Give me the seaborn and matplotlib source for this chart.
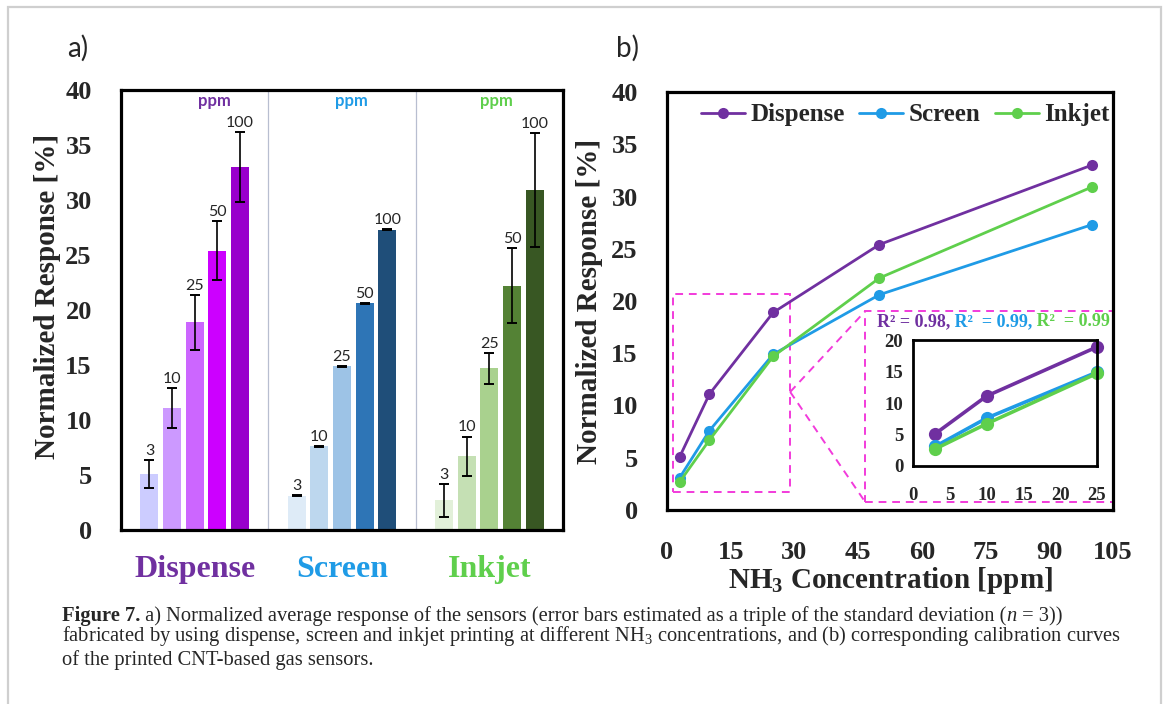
import numpy as np
import pandas as pd
import matplotlib
matplotlib.use("Agg")
import matplotlib.pyplot as plt
import seaborn as sns
from matplotlib.patches import Rectangle
from matplotlib.lines import Line2D
from matplotlib.container import BarContainer

# ---------------- data ----------------
methods = ["Dispense", "Screen", "Inkjet"]
concentrations = [3, 10, 25, 50, 100]
conc_labels = ["3", "10", "25", "50", "100"]

dispense_resp = [5.1, 11.1, 18.9, 25.4, 33.0]
screen_resp = [3.1, 7.6, 14.9, 20.6, 27.3]
inkjet_resp = [2.7, 6.7, 14.7, 22.2, 30.9]

dispense_err = [1.3, 1.8, 2.5, 2.7, 3.2]
screen_err = [0.04, 0.04, 0.04, 0.04, 0.04]
inkjet_err = [1.5, 1.8, 1.4, 3.4, 5.2]

r2_texts = ["R\u00b2 = 0.98,", " R\u00b2  = 0.99,", " R\u00b2  = 0.99"]
y_ticks_main = [0, 5, 10, 15, 20, 25, 30, 35, 40]
x_ticks_b = [0, 15, 30, 45, 60, 75, 90, 105]
inset_xticks = [0, 5, 10, 15, 20, 25]
inset_yticks = [0, 5, 10, 15, 20]

# ---------------- styles ----------------
bar_colors = {
    "Dispense": ["#CCCCFF", "#CC99FF", "#CC66FF", "#CC00FF", "#9900CC"],
    "Screen": ["#DEEBF7", "#BDD7EE", "#9DC3E6", "#2E75B6", "#1F4E79"],
    "Inkjet": ["#E2F0D9", "#C5E0B4", "#A9D18E", "#548235", "#385723"],
}
line_colors = {"Dispense": "#7030A0", "Screen": "#1F9BE6", "Inkjet": "#5FCF4C"}
magenta = "#F23BDB"

sns.set_style("white")
plt.rcParams["font.family"] = ["Liberation Serif", "DejaVu Serif"]
plt.rcParams["mathtext.fontset"] = "custom"
plt.rcParams["mathtext.rm"] = "Liberation Serif"
plt.rcParams["mathtext.it"] = "Liberation Serif:italic"
plt.rcParams["mathtext.bf"] = "Liberation Serif:bold"

W, H = 1167, 704
fig = plt.figure(figsize=(W / 100, H / 100), dpi=100)
fig.patch.set_facecolor("white")


def fr(l, t, r, b):
    return [l / W, 1 - b / H, (r - l) / W, (b - t) / H]


axa = fig.add_axes(fr(121, 90, 563, 530))
axb = fig.add_axes(fr(667, 92, 1113, 510))

SP = 2.3
TICKFS = 19

# ---------------- panel a ----------------
dfa = pd.DataFrame({
    "method": np.repeat(methods, len(concentrations)),
    "conc": conc_labels * len(methods),
    "value": dispense_resp + screen_resp + inkjet_resp,
})
errs = {"Dispense": dispense_err, "Screen": screen_err, "Inkjet": inkjet_err}

sns.barplot(data=dfa, x="method", y="value", hue="conc", order=methods,
            hue_order=conc_labels, width=0.768, gap=0.2, errorbar=None,
            legend=False, saturation=1, ax=axa)

bar_conts = [c for c in axa.containers if isinstance(c, BarContainer)]
for i, cont in enumerate(bar_conts):
    for j, bar in enumerate(list(cont)):
        m = methods[j]
        bar.set_facecolor(bar_colors[m][i])
        bar.set_edgecolor("none")
        xc = bar.get_x() + bar.get_width() / 2
        h = bar.get_height()
        e = errs[m][i]
        axa.errorbar(xc, h, yerr=e, color="black", capsize=3.6,
                     elinewidth=1.2, capthick=1.4, zorder=4)
        axa.annotate(conc_labels[i], (xc, h + e), xytext=(0, 1.5),
                     textcoords="offset points", ha="center", va="bottom",
                     fontsize=11.5, family=["Lato", "DejaVu Sans"], zorder=5)

for xs in (0.5, 1.5):
    axa.axvline(xs, color="#B8BED0", lw=0.9, zorder=0)

ppm_x = [0.135, 1.062, 2.047]
for m, px in zip(methods, ppm_x):
    axa.text(px, 39.0, "ppm", color=line_colors[m], fontsize=12,
             fontweight="bold", family=["Lato", "DejaVu Sans"],
             ha="center", va="center")

axa.set_xlim(-0.5, 2.5)
axa.set_ylim(0, 40)
axa.set_yticks(y_ticks_main)
axa.set_yticklabels([str(v) for v in y_ticks_main], fontsize=TICKFS,
                    fontweight="bold")
axa.set_xticks([-0.5, 0.5, 1.5, 2.5])
axa.set_xticklabels([])
axa.set_xticks([0, 1, 2], minor=True)
axa.set_xticklabels(methods, minor=True, fontsize=23, fontweight="bold")
for lbl, m in zip(axa.get_xticklabels(minor=True), methods):
    lbl.set_color(line_colors[m])
axa.tick_params(axis="x", which="minor", length=0, pad=18)
axa.tick_params(axis="x", which="major", direction="out", length=8,
                width=SP, color="black")
axa.tick_params(axis="y", direction="out", length=8, width=SP,
                color="black", pad=13)
axa.set_xlabel("")
axa.set_ylabel("Normalized Response [%]", fontsize=21, fontweight="bold")
axa.yaxis.set_label_coords(-0.136, 0.53)
for s in axa.spines.values():
    s.set_linewidth(SP)
    s.set_color("black")
    s.set_visible(True)

# ---------------- panel b ----------------
dfb = pd.DataFrame({
    "method": np.repeat(methods, len(concentrations)),
    "conc": concentrations * len(methods),
    "value": dispense_resp + screen_resp + inkjet_resp,
})
sns.lineplot(data=dfb, x="conc", y="value", hue="method", hue_order=methods,
             palette=line_colors, marker="o", markersize=8,
             markeredgewidth=0, linewidth=2.0, legend=False, ax=axb,
             zorder=3)

handles = [Line2D([0], [0], color=line_colors[m], marker="o", markersize=8,
                  markeredgewidth=0, lw=2.0) for m in methods]
leg = axb.legend(handles, methods, ncol=3, frameon=False, loc="center",
                 bbox_to_anchor=(0.534, 0.945),
                 handlelength=1.75, handletextpad=0.2, columnspacing=0.6,
                 prop={"weight": "bold", "size": 18})

axb.set_xlim(0, 105)
axb.set_ylim(0, 40)
axb.set_xticks(x_ticks_b)
axb.set_xticklabels([str(v) for v in x_ticks_b], fontsize=TICKFS,
                    fontweight="bold")
axb.set_yticks(y_ticks_main)
axb.set_yticklabels([str(v) for v in y_ticks_main], fontsize=TICKFS,
                    fontweight="bold")
axb.tick_params(axis="x", direction="out", length=8, width=SP, pad=14)
axb.tick_params(axis="y", direction="out", length=8, width=SP, pad=13)
axb.set_xlabel(r"$\mathbf{NH_3}$ Concentration [ppm]", fontsize=21,
               fontweight="bold", labelpad=1)
axb.set_ylabel("Normalized Response [%]", fontsize=21, fontweight="bold")
axb.yaxis.set_label_coords(-0.143, 0.5)
for s in axb.spines.values():
    s.set_linewidth(SP)
    s.set_color("black")
    s.set_visible(True)

# zoom box, inset box and connectors (annotation decorations)
zoom_box = (1.4, 1.7, 29.0, 20.7)      # x0, y0, x1, y1 in data units
inset_box = (46.6, 0.8, 105.0, 19.0)
dash = (0, (4, 3))
axb.add_patch(Rectangle((zoom_box[0], zoom_box[1]), zoom_box[2] - zoom_box[0],
                        zoom_box[3] - zoom_box[1], fill=False, ec=magenta,
                        lw=1.4, ls=dash, zorder=2))
axb.add_patch(Rectangle((inset_box[0], inset_box[1]),
                        inset_box[2] - inset_box[0],
                        inset_box[3] - inset_box[1], fill=False, ec=magenta,
                        lw=1.4, ls=dash, zorder=2, clip_on=False))
apex_y = 11.3
for yy in (inset_box[3], inset_box[1]):
    axb.add_line(Line2D([zoom_box[2], inset_box[0]], [apex_y, yy],
                        color=magenta, lw=1.4, ls=dash, zorder=2))

# R^2 text
t = axb.text(49.4, 18.0, r2_texts[0], color=line_colors["Dispense"],
             fontsize=13, fontweight="bold", ha="left", va="center")
for txt, m in zip(r2_texts[1:], methods[1:]):
    t = axb.annotate(txt, xy=(1, 0), xycoords=t, ha="left", va="bottom",
                     color=line_colors[m], fontsize=13, fontweight="bold")

# ---------------- inset ----------------
axi = fig.add_axes(fr(913, 340, 1097, 466))
dfi = dfb[dfb["conc"] <= 25]
sns.lineplot(data=dfi, x="conc", y="value", hue="method", hue_order=methods,
             palette=line_colors, marker="o", markersize=9.5,
             markeredgewidth=0, linewidth=2.6, legend=False, ax=axi)
axi.set_xlim(0, 25)
axi.set_ylim(0, 20)
axi.set_xticks(inset_xticks)
axi.set_xticklabels([str(v) for v in inset_xticks], fontsize=13.5,
                    fontweight="bold")
axi.set_yticks(inset_yticks)
axi.set_yticklabels([str(v) for v in inset_yticks], fontsize=13.5,
                    fontweight="bold")
axi.tick_params(axis="x", direction="out", length=5, width=2, pad=10)
axi.tick_params(axis="y", direction="out", length=5, width=2, pad=2)
axi.set_xlabel("")
axi.set_ylabel("")
for s in axi.spines.values():
    s.set_linewidth(2.0)
    s.set_color("black")
    s.set_visible(True)
for ln in axi.lines:
    ln.set_clip_on(False)

# ---------------- titles ----------------
fig.text(78 / W, 1 - 48 / H, "a)", fontsize=20, family=["Lato", "DejaVu Sans"],
         ha="center", va="center")
fig.text(628 / W, 1 - 48 / H, "b)", fontsize=20, family=["Lato", "DejaVu Sans"],
         ha="center", va="center")

# ---------------- caption ----------------
CFS = 14.8
x0 = 62 / W
c1 = fig.text(x0, 1 - 626 / H, "Figure 7.", fontsize=CFS, fontweight="bold",
              ha="left", va="bottom")
c = plt.annotate(" a) Normalized average response of the sensors (error bars "
                 "estimated as a triple of the standard deviation (",
                 xy=(1, 0), xycoords=c1, ha="left", va="bottom", fontsize=CFS,
                 annotation_clip=False)
c = plt.annotate("n", xy=(1, 0), xycoords=c, ha="left", va="bottom",
                 fontsize=CFS, style="italic", annotation_clip=False)
c = plt.annotate(" = 3))", xy=(1, 0), xycoords=c, ha="left", va="bottom",
                 fontsize=CFS, annotation_clip=False)
fig.text(x0, 1 - 648 / H,
         r"fabricated by using dispense, screen and inkjet printing at "
         r"different NH$_3$ concentrations, and (b) corresponding "
         r"calibration curves", fontsize=CFS, ha="left", va="bottom")
fig.text(x0, 1 - 670 / H, "of the printed CNT-based gas sensors.",
         fontsize=CFS, ha="left", va="bottom")

# ---------------- page border ----------------
fig.add_artist(Rectangle((8 / W, -0.05), (1161 - 8) / W, 1.05 - 7 / H,
                         transform=fig.transFigure, fill=False,
                         ec="#CFCFCF", lw=1.6, zorder=0))

fig.savefig("out.png", dpi=100, facecolor="white")
